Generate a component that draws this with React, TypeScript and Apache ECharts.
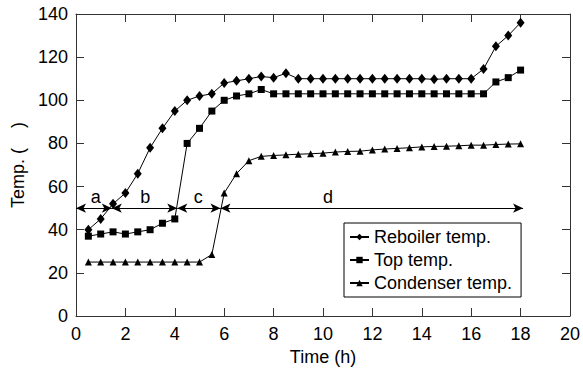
import React, { useEffect, useRef } from "react";
import * as echarts from "echarts";

const times = [0.5, 1, 1.5, 2, 2.5, 3, 3.5, 4, 4.5, 5, 5.5, 6, 6.5, 7, 7.5, 8, 8.5, 9, 9.5, 10, 10.5, 11, 11.5, 12, 12.5, 13, 13.5, 14, 14.5, 15, 15.5, 16, 16.5, 17, 17.5, 18];

const reboiler = [40, 45, 52, 57, 66, 78, 87, 95, 100, 102, 103, 108, 109, 110, 111, 110.5, 112.5, 110, 110, 110, 110, 110, 110, 110, 110, 110, 110, 110, 109.7, 110, 110, 110, 114.5, 125, 130, 136];

const topTemp = [37, 38, 39, 38, 39, 40, 43, 45, 80, 87, 95, 100, 102, 103, 105, 103, 103, 103, 103, 103, 103, 103, 103, 103, 103, 103, 103, 103, 103, 103, 103, 103, 103, 108.5, 110.5, 114];

const condenser = [25, 25, 25, 25, 25, 25, 25, 25, 25, 25, 28.5, 57, 66, 72, 74, 74.4, 74.7, 75, 75.2, 75.5, 76, 76.3, 76.4, 77, 77.4, 77.7, 78, 78.4, 78.6, 78.7, 78.9, 79.2, 79.2, 79.5, 79.7, 79.8];

const seriesNames = ["Reboiler temp.", "Top temp.", "Condenser temp."];

// stage annotation: boundaries (h) at the arrow level, labels and label positions
const stageLevel = 50;
const stageBounds = [
  [0, 1.45],
  [1.45, 4.1],
  [4.1, 5.85],
  [5.85, 18.1],
];
const stageLabels = ["a", "b", "c", "d"];
const stageLabelX = [0.8, 2.8, 4.95, 10.2];

const xTicks = { min: 0, max: 20, interval: 2 };
const yTicks = { min: 0, max: 140, interval: 20 };

const FONT = "Liberation Sans, Arial, sans-serif";

export default function App() {
  const ref = useRef<HTMLDivElement>(null);
  useEffect(() => {
    if (!ref.current) return;
    const chart = echarts.init(ref.current, undefined, { renderer: "svg" });
    const zip = (arr: number[]) => times.map((t, i) => [t, arr[i]]);
    const axisColor = "#333";
    const baseX = {
      type: "value" as const,
      ...xTicks,
      axisLine: { show: true, onZero: false, lineStyle: { color: axisColor, width: 1 } },
      axisTick: { show: true, inside: true, length: 8, lineStyle: { color: axisColor } },
      splitLine: { show: false },
    };
    const baseY = {
      type: "value" as const,
      ...yTicks,
      axisLine: { show: true, onZero: false, lineStyle: { color: axisColor, width: 1 } },
      axisTick: { show: true, inside: true, length: 8, lineStyle: { color: axisColor } },
      splitLine: { show: false },
    };
    const lineCommon = {
      type: "line" as const,
      lineStyle: { color: "#000", width: 1 },
      itemStyle: { color: "#000" },
      showSymbol: true,
    };
    chart.setOption({
      animation: false,
      textStyle: { fontFamily: FONT, color: "#000" },
      grid: { left: 76, right: 11, top: 14, bottom: 55 },
      legend: {
        orient: "vertical",
        left: 344,
        top: 223,
        data: seriesNames,
        itemWidth: 19,
        itemHeight: 8,
        itemGap: 5,
        padding: [5, 9, 5, 5],
        borderColor: "#000",
        borderWidth: 1,
        backgroundColor: "#fff",
        textStyle: { fontSize: 18, color: "#000", fontFamily: FONT },
      },
      xAxis: [
        {
          ...baseX,
          position: "bottom",
          name: "Time (h)",
          nameLocation: "middle",
          nameGap: 30,
          nameTextStyle: { fontSize: 18, color: "#000", fontFamily: FONT },
          axisLabel: { show: true, fontSize: 18, color: "#000", margin: 9, fontFamily: FONT },
        },
        { ...baseX, position: "top", axisLabel: { show: false } },
      ],
      yAxis: [
        {
          ...baseY,
          position: "left",
          name: "Temp. (    )",
          nameLocation: "middle",
          nameGap: 48,
          nameTextStyle: { fontSize: 18, color: "#000", fontFamily: FONT },
          axisLabel: { show: true, fontSize: 18, color: "#000", margin: 8, fontFamily: FONT },
        },
        { ...baseY, position: "right", axisLabel: { show: false } },
      ],
      series: [
        { ...lineCommon, name: seriesNames[0], symbol: "diamond", symbolSize: [8, 10], data: zip(reboiler) },
        { ...lineCommon, name: seriesNames[1], symbol: "rect", symbolSize: 7, data: zip(topTemp) },
        { ...lineCommon, name: seriesNames[2], symbol: "triangle", symbolSize: 7, data: zip(condenser) },
        {
          type: "scatter",
          name: "stages",
          data: [],
          silent: true,
          markLine: {
            silent: true,
            symbol: ["arrow", "arrow"],
            symbolSize: [7, 10],
            label: { show: false },
            lineStyle: { color: "#000", width: 1, type: "solid" },
            data: stageBounds.map(([a, b]) => [
              { coord: [a, stageLevel] },
              { coord: [b, stageLevel] },
            ]),
          },
          markPoint: {
            silent: true,
            symbol: "rect",
            symbolSize: 0,
            label: {
              show: true,
              fontSize: 18,
              color: "#000",
              fontFamily: FONT,
              position: "top",
              distance: 2,
              formatter: (p: any) => p.name,
            },
            data: stageLabels.map((s, i) => ({ name: s, coord: [stageLabelX[i], stageLevel] })),
          },
        },
      ],
    });
    return () => chart.dispose();
  }, []);
  return (
    <div
      ref={ref}
      style={{ position: "fixed", left: 0, top: 0, width: 583, height: 371, background: "#fff" }}
    />
  );
}
